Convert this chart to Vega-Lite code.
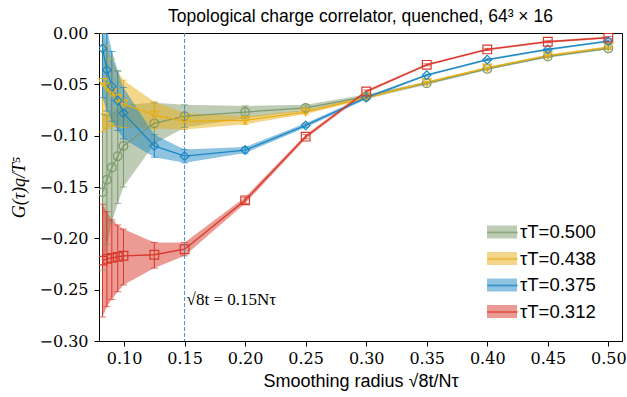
{
  "$schema": "https://vega.github.io/schema/vega-lite/v6.json",
  "width": 523,
  "height": 308,
  "autosize": {"type": "none"},
  "padding": {"left": 99, "top": 33, "right": 5, "bottom": 56},
  "background": "white",
  "config": {
    "view": {"stroke": "black", "strokeWidth": 1},
    "axis": {
      "grid": false,
      "domainColor": "black",
      "tickColor": "black",
      "tickSize": 5,
      "labelFont": "DejaVu Serif",
      "labelFontSize": 16,
      "labelColor": "black",
      "titleColor": "black",
      "titleFontWeight": "normal"
    }
  },
  "title": {
    "text": "Topological charge correlator, quenched, 64³ × 16",
    "font": "Liberation Sans",
    "fontSize": 17.5,
    "fontWeight": "normal",
    "color": "black",
    "offset": 0
  },
  "data": {
    "values": [
      {"s": "0.500", "x": 0.0822, "g": -0.155, "lo": -0.231, "hi": -0.079},
      {"s": "0.500", "x": 0.0858, "g": -0.143, "lo": -0.206, "hi": -0.080},
      {"s": "0.500", "x": 0.0899, "g": -0.131, "lo": -0.184, "hi": -0.078},
      {"s": "0.500", "x": 0.0948, "g": -0.120, "lo": -0.166, "hi": -0.074},
      {"s": "0.500", "x": 0.0995, "g": -0.110, "lo": -0.150, "hi": -0.070},
      {"s": "0.500", "x": 0.125, "g": -0.088, "lo": -0.108, "hi": -0.068},
      {"s": "0.500", "x": 0.15, "g": -0.081, "lo": -0.092, "hi": -0.070},
      {"s": "0.500", "x": 0.2, "g": -0.077, "lo": -0.083, "hi": -0.071},
      {"s": "0.500", "x": 0.25, "g": -0.073, "lo": -0.076, "hi": -0.070},
      {"s": "0.500", "x": 0.3, "g": -0.062, "lo": -0.064, "hi": -0.060},
      {"s": "0.500", "x": 0.35, "g": -0.049, "lo": -0.0505, "hi": -0.0475},
      {"s": "0.500", "x": 0.4, "g": -0.035, "lo": -0.036, "hi": -0.034},
      {"s": "0.500", "x": 0.45, "g": -0.023, "lo": -0.024, "hi": -0.022},
      {"s": "0.500", "x": 0.5, "g": -0.015, "lo": -0.016, "hi": -0.014},
      {"s": "0.438", "x": 0.0822, "g": -0.048, "lo": -0.096, "hi": 0.000},
      {"s": "0.438", "x": 0.0858, "g": -0.053, "lo": -0.093, "hi": -0.013},
      {"s": "0.438", "x": 0.0899, "g": -0.058, "lo": -0.091, "hi": -0.025},
      {"s": "0.438", "x": 0.0948, "g": -0.064, "lo": -0.091, "hi": -0.037},
      {"s": "0.438", "x": 0.0995, "g": -0.069, "lo": -0.092, "hi": -0.046},
      {"s": "0.438", "x": 0.125, "g": -0.080, "lo": -0.093, "hi": -0.067},
      {"s": "0.438", "x": 0.15, "g": -0.086, "lo": -0.094, "hi": -0.078},
      {"s": "0.438", "x": 0.2, "g": -0.085, "lo": -0.089, "hi": -0.081},
      {"s": "0.438", "x": 0.25, "g": -0.077, "lo": -0.079, "hi": -0.075},
      {"s": "0.438", "x": 0.3, "g": -0.063, "lo": -0.0645, "hi": -0.0615},
      {"s": "0.438", "x": 0.35, "g": -0.048, "lo": -0.049, "hi": -0.047},
      {"s": "0.438", "x": 0.4, "g": -0.034, "lo": -0.035, "hi": -0.033},
      {"s": "0.438", "x": 0.45, "g": -0.022, "lo": -0.023, "hi": -0.021},
      {"s": "0.438", "x": 0.5, "g": -0.014, "lo": -0.015, "hi": -0.013},
      {"s": "0.375", "x": 0.0822, "g": -0.015, "lo": -0.063, "hi": 0.033},
      {"s": "0.375", "x": 0.0858, "g": -0.036, "lo": -0.076, "hi": 0.004},
      {"s": "0.375", "x": 0.0899, "g": -0.052, "lo": -0.086, "hi": -0.018},
      {"s": "0.375", "x": 0.0948, "g": -0.066, "lo": -0.095, "hi": -0.037},
      {"s": "0.375", "x": 0.0995, "g": -0.078, "lo": -0.103, "hi": -0.053},
      {"s": "0.375", "x": 0.125, "g": -0.110, "lo": -0.121, "hi": -0.099},
      {"s": "0.375", "x": 0.15, "g": -0.120, "lo": -0.1265, "hi": -0.1135},
      {"s": "0.375", "x": 0.2, "g": -0.114, "lo": -0.117, "hi": -0.111},
      {"s": "0.375", "x": 0.25, "g": -0.090, "lo": -0.092, "hi": -0.088},
      {"s": "0.375", "x": 0.3, "g": -0.063, "lo": -0.0645, "hi": -0.0615},
      {"s": "0.375", "x": 0.35, "g": -0.041, "lo": -0.042, "hi": -0.040},
      {"s": "0.375", "x": 0.4, "g": -0.026, "lo": -0.027, "hi": -0.025},
      {"s": "0.375", "x": 0.45, "g": -0.016, "lo": -0.017, "hi": -0.015},
      {"s": "0.375", "x": 0.5, "g": -0.008, "lo": -0.009, "hi": -0.007},
      {"s": "0.312", "x": 0.0822, "g": -0.2217, "lo": -0.2766, "hi": -0.1668},
      {"s": "0.312", "x": 0.0858, "g": -0.220, "lo": -0.2666, "hi": -0.174},
      {"s": "0.312", "x": 0.0899, "g": -0.219, "lo": -0.2594, "hi": -0.182},
      {"s": "0.312", "x": 0.0948, "g": -0.218, "lo": -0.252, "hi": -0.187},
      {"s": "0.312", "x": 0.0995, "g": -0.217, "lo": -0.2454, "hi": -0.191},
      {"s": "0.312", "x": 0.125, "g": -0.216, "lo": -0.229, "hi": -0.204},
      {"s": "0.312", "x": 0.15, "g": -0.2106, "lo": -0.217, "hi": -0.204},
      {"s": "0.312", "x": 0.2, "g": -0.163, "lo": -0.166, "hi": -0.160},
      {"s": "0.312", "x": 0.25, "g": -0.101, "lo": -0.103, "hi": -0.099},
      {"s": "0.312", "x": 0.3, "g": -0.057, "lo": -0.0585, "hi": -0.0555},
      {"s": "0.312", "x": 0.35, "g": -0.031, "lo": -0.032, "hi": -0.030},
      {"s": "0.312", "x": 0.4, "g": -0.016, "lo": -0.017, "hi": -0.015},
      {"s": "0.312", "x": 0.45, "g": -0.0085, "lo": -0.0095, "hi": -0.0075},
      {"s": "0.312", "x": 0.5, "g": -0.0045, "lo": -0.0055, "hi": -0.0035}
    ]
  },
  "encoding": {
    "x": {
      "field": "x",
      "type": "quantitative",
      "scale": {"domain": [0.0793, 0.5113], "nice": false, "zero": false},
      "axis": {
        "values": [0.1, 0.15, 0.2, 0.25, 0.3, 0.35, 0.4, 0.45, 0.5],
        "format": ".2f",
        "labelPadding": 4,
        "title": "Smoothing radius √8t/Nτ",
        "titleFont": "Liberation Sans",
        "titleFontSize": 18,
        "titlePadding": 6
      }
    }
  },
  "layer": [
    {
      "mark": {"type": "area", "opacity": 0.5, "clip": true},
      "encoding": {
        "y": {
          "field": "lo",
          "type": "quantitative",
          "scale": {"domain": [-0.3, 0], "nice": false, "zero": false},
          "axis": {
            "values": [-0.3, -0.25, -0.2, -0.15, -0.1, -0.05, 0],
            "format": ".2f",
            "labelPadding": 6,
            "title": "G(τ)q/T⁵",
            "titleFont": "Liberation Serif",
            "titleFontStyle": "italic",
            "titleFontSize": 18,
            "titlePadding": 10
          }
        },
        "y2": {"field": "hi"},
        "fill": {
          "field": "s",
          "type": "nominal",
          "scale": {"domain": ["0.312", "0.375", "0.438", "0.500"], "range": ["#d8382a", "#1d87c4", "#e9ae16", "#7d9a6c"]},
          "legend": {
            "values": ["0.500", "0.438", "0.375", "0.312"],
            "orient": "none",
            "legendX": 393,
            "legendY": 189,
            "title": null,
            "padding": 0,
            "symbolType": "M-1.5,-0.65H1.5V0.65H-1.5Z",
            "symbolSize": 400,
            "symbolStrokeWidth": 0,
            "symbolOpacity": 0.5,
            "labelFont": "Liberation Sans",
            "labelFontSize": 18.5,
            "labelColor": "black",
            "labelOffset": 8,
            "rowPadding": 6.5,
            "labelExpr": "'τT=' + datum.label"
          }
        }
      }
    },
    {
      "mark": {"type": "rule", "clip": true, "strokeWidth": 1},
      "encoding": {
        "y": {"field": "lo", "type": "quantitative"},
        "y2": {"field": "hi"},
        "color": {
          "field": "s",
          "type": "nominal",
          "scale": {"domain": ["0.500", "0.438", "0.375", "0.312"], "range": ["#7d9a6c", "#e9ae16", "#1d87c4", "#d8382a"]},
          "legend": {
            "orient": "none",
            "legendX": 393,
            "legendY": 189,
            "title": null,
            "padding": 0,
            "symbolType": "M-1.5,-0.07H1.5V0.07H-1.5Z",
            "symbolSize": 400,
            "symbolStrokeWidth": 0.4,
            "symbolOpacity": 1,
            "labelFont": "Liberation Sans",
            "labelFontSize": 18.5,
            "labelColor": "transparent",
            "labelOffset": 8,
            "rowPadding": 6.5,
            "labelExpr": "'τT=' + datum.label"
          }
        }
      }
    },
    {
      "mark": {"type": "tick", "orient": "horizontal", "size": 7, "thickness": 1, "clip": true},
      "encoding": {
        "y": {"field": "lo", "type": "quantitative"},
        "color": {"field": "s", "type": "nominal"}
      }
    },
    {
      "mark": {"type": "tick", "orient": "horizontal", "size": 7, "thickness": 1, "clip": true},
      "encoding": {
        "y": {"field": "hi", "type": "quantitative"},
        "color": {"field": "s", "type": "nominal"}
      }
    },
    {
      "mark": {"type": "line", "strokeWidth": 1.3, "clip": true},
      "encoding": {
        "y": {"field": "g", "type": "quantitative"},
        "color": {"field": "s", "type": "nominal"}
      }
    },
    {
      "mark": {"type": "point", "filled": false, "strokeWidth": 1.2, "size": 75, "opacity": 1, "clip": true},
      "encoding": {
        "y": {"field": "g", "type": "quantitative"},
        "color": {"field": "s", "type": "nominal"},
        "shape": {
          "field": "s",
          "type": "nominal",
          "scale": {"domain": ["0.438", "0.500", "0.312", "0.375"], "range": ["triangle-down", "circle", "square", "diamond"]},
          "legend": null
        }
      }
    },
    {
      "data": {"values": [{"v": 0.15}]},
      "mark": {"type": "rule", "color": "#3a93d6", "strokeWidth": 1, "strokeDash": [4, 2]},
      "encoding": {"x": {"field": "v", "type": "quantitative"}}
    },
    {
      "data": {"values": [{"v": 0.15, "w": -0.26, "t": "√8t = 0.15Nτ"}]},
      "mark": {"type": "text", "align": "left", "baseline": "middle", "dx": 2, "font": "Liberation Serif", "fontSize": 17, "color": "black"},
      "encoding": {
        "x": {"field": "v", "type": "quantitative"},
        "y": {"field": "w", "type": "quantitative"},
        "text": {"field": "t"}
      }
    }
  ]
}
